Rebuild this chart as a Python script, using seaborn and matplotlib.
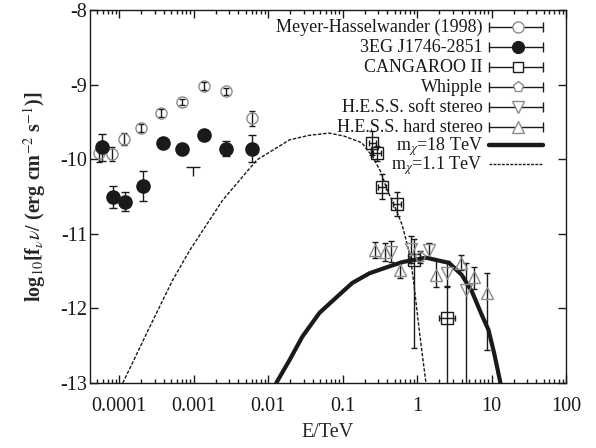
import numpy as np
import matplotlib
matplotlib.use('Agg')
import matplotlib.pyplot as plt
import pandas as pd
import seaborn as sns

# data (E given as log10(E/TeV))
meyer_logE = [-4.27, -4.10, -3.94, -3.70, -3.44, -3.16, -2.86, -2.56, -2.21]
meyer_y = [-9.92, -9.93, -9.73, -9.58, -9.38, -9.23, -9.02, -9.09, -9.45]
meyer_err = [0.12, 0.09, 0.08, 0.05, 0.05, 0.04, 0.05, 0.05, 0.10]

egret_logE = [-4.23, -4.08, -3.92, -3.68, -3.41, -3.16, -2.86, -2.56, -2.21]
egret_y = [-9.84, -10.51, -10.57, -10.36, -9.78, -9.86, -9.68, -9.86, -9.86]
egret_err = [0.18, 0.15, 0.13, 0.20, 0.03, 0.03, 0.03, 0.10, 0.18]

egret_ul_logE = [-3.01]
egret_ul_y = [-10.10]
egret_ul_len = [0.13]

cangaroo_logE = [-0.60, -0.54, -0.47, -0.27, -0.04, 0.40]
cangaroo_y = [-9.78, -9.92, -10.37, -10.60, -11.35, -12.13]
cangaroo_lo = [0.16, 0.10, 0.17, 0.16, 1.18, 0.90]
cangaroo_hi = [0.16, 0.10, 0.17, 0.16, 0.28, 0.42]
cangaroo_dex = [0.05, 0.05, 0.05, 0.05, 0.05, 0.11]

whipple_logE = [0.04]
whipple_y = [-11.31]
whipple_err = [0.08]

soft_logE = [-0.35, -0.08, 0.16, 0.40, 0.66]
soft_y = [-11.24, -11.21, -11.22, -11.53, -11.75]
soft_lo = [0.14, 0.18, 0.10, 0.17, 1.40]
soft_hi = [0.14, 0.18, 0.10, 0.17, 0.36]

hard_logE = [-0.56, -0.43, -0.23, 0.25, 0.59, 0.76, 0.94]
hard_y = [-11.22, -11.25, -11.49, -11.55, -11.39, -11.58, -11.79]
hard_lo = [0.11, 0.12, 0.10, 0.16, 0.10, 0.16, 0.77]
hard_hi = [0.11, 0.12, 0.10, 0.20, 0.10, 0.14, 0.27]

# model curves
m11_logE = [-3.95, -3.55, -3.28, -3.05, -2.61, -2.38, -2.15, -1.71, -1.45, -1.18,
            -0.98, -0.74, -0.60, -0.48, -0.41, -0.28, -0.20, -0.13, -0.08, -0.04,
            0.03, 0.08, 0.12]
m11_y = [-13.00, -12.17, -11.62, -11.22, -10.55, -10.28, -10.01, -9.74, -9.68, -9.65,
         -9.69, -9.78, -9.96, -10.18, -10.39, -10.68, -10.88, -11.15, -11.38, -11.69,
         -12.29, -12.69, -13.00]

m18_logE = [-1.89, -1.71, -1.54, -1.31, -1.08, -0.87, -0.64, -0.41, -0.20, 0.12,
            0.43, 0.60, 0.74, 0.87, 0.96, 1.04, 1.12]
m18_y = [-13.00, -12.69, -12.38, -12.06, -11.85, -11.66, -11.53, -11.45, -11.38, -11.32,
         -11.39, -11.55, -11.78, -12.09, -12.29, -12.62, -13.00]

x_ticks = [1e-4, 1e-3, 1e-2, 1e-1, 1, 10, 100]
x_ticklabels = ['0.0001', '0.001', '0.01', '0.1', '1', '10', '100']
y_ticks = [-8, -9, -10, -11, -12, -13]

legend_labels = ['Meyer-Hasselwander (1998)', '3EG J1746-2851', 'CANGAROO II',
                 'Whipple', 'H.E.S.S. soft stereo', 'H.E.S.S. hard stereo',
                 r'm$_\chi$=18 TeV', r'm$_\chi$=1.1 TeV']

# figure geometry in pixels (axes box and legend rows)
FIG_W, FIG_H = 596, 448
AX_L, AX_R, AX_T, AX_B = 90, 566, 10, 383
ROWS_PX = [26.7, 46.7, 66.7, 86.7, 106.7, 126.7, 145.0, 164.3]
TEXT_R_PX = 483
KEY_X0, KEY_X1, KEY_XM = 489, 543, 518


def fx(px):
    return (px - AX_L) / (AX_R - AX_L)


def fy(py):
    return 1 - (py - AX_T) / (AX_B - AX_T)


def main():
    sns.set_theme(style='ticks')
    plt.rcParams['font.family'] = ['Liberation Serif', 'DejaVu Serif']
    plt.rcParams['mathtext.fontset'] = 'stix'
    plt.rcParams['axes.unicode_minus'] = False

    fig = plt.figure(figsize=(FIG_W / 100, FIG_H / 100), dpi=100)
    ax = fig.add_axes([AX_L / FIG_W, 1 - AX_B / FIG_H,
                       (AX_R - AX_L) / FIG_W, (AX_B - AX_T) / FIG_H])
    ax.set_xscale('log')

    gray = '#8c8c8c'
    eb = dict(ecolor='k', elinewidth=1, capthick=1, linestyle='none')

    def E(v):
        return 10 ** np.asarray(v)

    ax.errorbar(E(meyer_logE), meyer_y, yerr=meyer_err, fmt='o', ms=8,
                mfc='none', mec=gray, mew=1, capsize=2.5, **eb)
    ax.errorbar(E(egret_logE), egret_y, yerr=egret_err, fmt='o', ms=9.5,
                mfc='k', mec='k', capsize=3, **eb)
    ax.errorbar(E(egret_ul_logE), egret_ul_y, yerr=[egret_ul_len, [0]],
                fmt='_', ms=10, mec='k', mew=1, capsize=0, **eb)

    cl = np.asarray(cangaroo_logE)
    cd = np.asarray(cangaroo_dex)
    cx = E(cl)
    ax.errorbar(cx, cangaroo_y, yerr=[cangaroo_lo, cangaroo_hi],
                xerr=[cx - E(cl - cd), E(cl + cd) - cx], fmt='s', ms=8.5,
                mfc='none', mec='k', mew=1, capsize=2.5, **eb)
    ax.errorbar(E(whipple_logE), whipple_y, yerr=whipple_err, fmt='p', ms=8,
                mfc='none', mec=gray, mew=1, capsize=2.5, **eb)
    ax.errorbar(E(soft_logE), soft_y, yerr=[soft_lo, soft_hi], fmt='v', ms=8,
                mfc='none', mec=gray, mew=1, capsize=2.5, **eb)
    ax.errorbar(E(hard_logE), hard_y, yerr=[hard_lo, hard_hi], fmt='^', ms=8,
                mfc='none', mec=gray, mew=1, capsize=2.5, **eb)

    curves = pd.concat([
        pd.DataFrame({'E': E(m18_logE), 'y': m18_y, 'model': '18'}),
        pd.DataFrame({'E': E(m11_logE), 'y': m11_y, 'model': '1.1'}),
    ])
    sns.lineplot(data=curves[curves.model == '18'], x='E', y='y', color='k',
                 lw=3, sort=False, ax=ax, legend=False)
    sns.lineplot(data=curves[curves.model == '1.1'], x='E', y='y', color='k',
                 lw=1, ls=(0, (2.5, 1.2)), sort=False, ax=ax, legend=False)

    ax.set_xlim(10 ** -4.39, 100)
    ax.set_ylim(-13, -8)
    ax.set_xticks(x_ticks)
    ax.set_xticklabels(x_ticklabels)
    ax.set_yticks(y_ticks)
    ax.set_yticklabels([str(t) for t in y_ticks])
    ax.tick_params(which='both', direction='in', top=True, right=True,
                   colors='k', labelsize=14.5)
    ax.tick_params(axis='x', pad=10)
    ax.tick_params(axis='y', pad=2)
    ax.tick_params(which='major', length=6, width=1)
    ax.tick_params(which='minor', length=3, width=1)
    for s in ax.spines.values():
        s.set_color('k')
        s.set_linewidth(1)

    ax.set_xlabel('E/TeV', fontsize=14.5, labelpad=5)
    ax.set_ylabel(r'log$_{10}$[f$_\nu\nu$/ (erg cm$^{-2}$ s$^{-1}$)]',
                  fontsize=14.5, fontweight='bold', labelpad=9)

    # gnuplot-style key: right-aligned text, then a bar with end caps
    keys = [
        dict(marker='o', mfc='white', mec=gray, ms=8, bar=True),
        dict(marker='o', mfc='k', mec='k', ms=8.5, bar=True),
        dict(marker='s', mfc='white', mec='k', ms=7.5, bar=True),
        dict(marker='p', mfc='white', mec=gray, ms=8, bar=True),
        dict(marker='v', mfc='white', mec=gray, ms=8, bar=True),
        dict(marker='^', mfc='white', mec=gray, ms=8, bar=True),
        dict(lw=3.2, ls='-', bar=False),
        dict(lw=1, ls=(0, (2, 1)), bar=False),
    ]
    kw = dict(transform=ax.transAxes, clip_on=False)
    for row, label, k in zip(ROWS_PX, legend_labels, keys):
        y = fy(row)
        ax.text(fx(TEXT_R_PX), fy(row + 5.5), label, ha='right', va='baseline',
                fontsize=13, color='k', **kw)
        xs = [fx(KEY_X0), fx(KEY_X1)]
        if k['bar']:
            ax.plot(xs, [y, y], color='k', lw=1, **kw)
            ax.plot(xs, [y, y], ls='none', marker='|', ms=7, mew=1, color='k', **kw)
            ax.plot([fx(KEY_XM)], [y], ls='none', marker=k['marker'], ms=k['ms'],
                    mfc=k['mfc'], mec=k['mec'], mew=1, **kw)
        else:
            ax.plot(xs, [y, y], color='k', lw=k['lw'], ls=k['ls'], **kw)

    fig.savefig('out.png', dpi=100, facecolor='white')


if __name__ == '__main__':
    main()
